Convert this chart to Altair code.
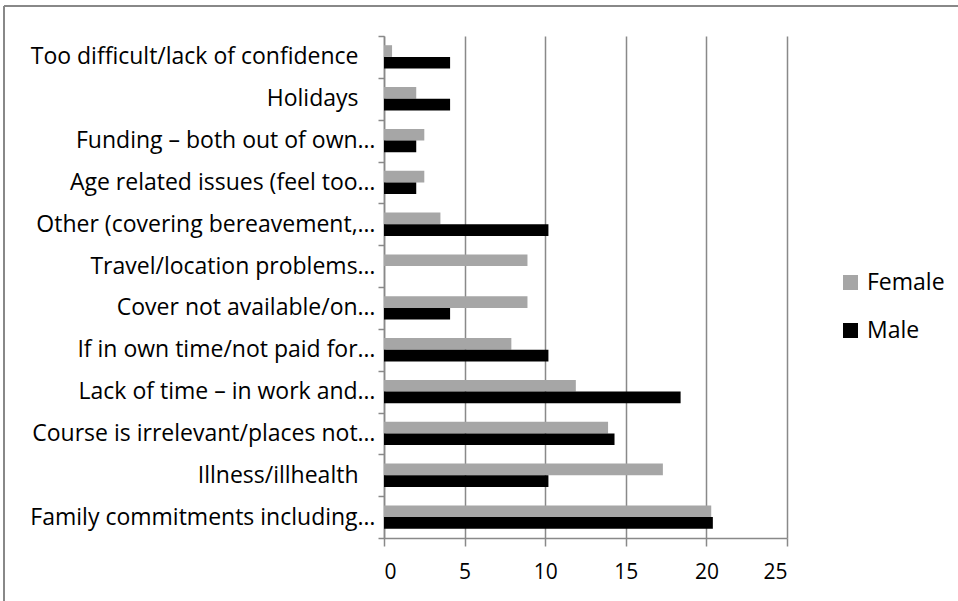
import altair as alt
import pandas as pd

# Reasons for not taking up training, % of respondents by gender (top to bottom)
categories = [
    "Too difficult/lack of confidence",
    "Holidays",
    "Funding – both out of own…",
    "Age related issues (feel too…",
    "Other (covering bereavement,…",
    "Travel/location problems…",
    "Cover not available/on…",
    "If in own time/not paid for…",
    "Lack of time – in work and…",
    "Course is irrelevant/places not…",
    "Illness/illhealth",
    "Family commitments including…",
]
female = [0.5, 2.0, 2.5, 2.5, 3.5, 8.9, 8.9, 7.9, 11.9, 13.9, 17.3, 20.3]
male = [4.1, 4.1, 2.0, 2.0, 10.2, 0.0, 4.1, 10.2, 18.4, 14.3, 10.2, 20.4]
series = ["Female", "Male"]
x_ticks = [0, 5, 10, 15, 20, 25]

rows = []
for cat, f, m in zip(categories, female, male):
    rows.append({"reason": cat, "gender": "Female", "pct": f})
    rows.append({"reason": cat, "gender": "Male", "pct": m})
df = pd.DataFrame(rows)

FONT = "Open Sans"
FS = 23
GRID = "#898989"
W, H = 403, 502

# untruncated labels sit a little further from the axis
label_pad = {"condition": {"test": "indexof(datum.label, '…') < 0", "value": 20}, "value": 3}

bars = alt.Chart(df).mark_bar(size=11.7).encode(
    x=alt.X(
        "pct:Q",
        scale=alt.Scale(domain=[0, 25], nice=False, zero=True),
        axis=alt.Axis(
            values=x_ticks, title=None, grid=True, gridColor=GRID, gridWidth=1.5,
            domainColor=GRID, domainWidth=1.5, tickColor=GRID, tickWidth=1.5,
            tickSize=8, labelFontSize=21, labelFont=FONT, labelColor="black",
            labelPadding=15,
        ),
    ),
    y=alt.Y(
        "reason:N",
        sort=categories,
        scale=alt.Scale(paddingInner=0, paddingOuter=0),
        axis=alt.Axis(
            title=None, tickBand="extent", tickSize=6, tickColor=GRID, tickWidth=1.5,
            domainColor=GRID, domainWidth=1.5, labelFontSize=FS, labelFont=FONT,
            labelColor="black", labelLimit=420, labelPadding=label_pad,
        ),
    ),
    yOffset=alt.YOffset(
        "gender:N", sort=series,
        scale=alt.Scale(paddingInner=0, paddingOuter=0.786),
    ),
    color=alt.Color(
        "gender:N",
        scale=alt.Scale(domain=series, range=["#a6a6a6", "#000000"]),
        legend=alt.Legend(
            title=None, orient="none", legendX=455, legendY=235,
            symbolType="square", symbolSize=225, symbolStrokeWidth=0,
            labelFontSize=FS, labelFont=FONT, labelColor="black",
            labelOffset=5, rowPadding=24, padding=0,
        ),
    ),
)

# Outer frame lines of the chart box
frame_top = alt.Chart(df).mark_rule(color=GRID, strokeWidth=1.5).encode(
    x=alt.value(-380), x2=alt.value(580), y=alt.value(-30)
)
frame_left = alt.Chart(df).mark_rule(color=GRID, strokeWidth=1.5).encode(
    x=alt.value(-380), y=alt.value(-30), y2=alt.value(570)
)

chart = (
    alt.layer(frame_top, frame_left, bars)
    .properties(
        width=W, height=H,
        autosize=alt.AutoSizeParams(type="none"),
        padding={"left": 384, "top": 36, "right": 958 - 384 - W, "bottom": 601 - 36 - H},
        background="white",
    )
    .configure_view(strokeWidth=0)
)

chart.save("out.html", embed_options={"renderer": "svg", "actions": False})
